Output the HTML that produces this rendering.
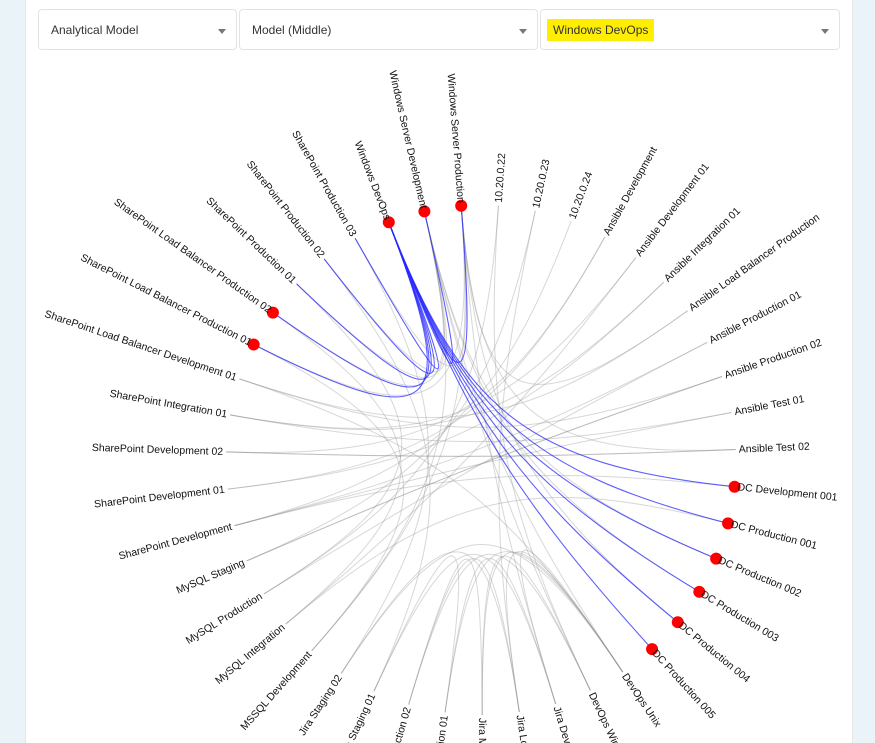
<!DOCTYPE html>
<html><head><meta charset="utf-8">
<style>
html,body{margin:0;padding:0;}
body{width:875px;height:743px;overflow:hidden;background:#eaf3f7;font-family:"Liberation Sans",Arial,sans-serif;position:relative;}
.card{position:absolute;left:25px;top:0;width:828px;height:743px;background:#fff;border-left:1px solid #e6e6e6;border-right:1px solid #e6e6e6;box-sizing:border-box;}
.dd{position:absolute;top:9px;height:41px;background:#fff;border:1px solid #e3e3e3;border-radius:4px;box-sizing:border-box;font-size:12px;color:#333;}
.dd span.t{position:absolute;left:12px;top:13px;}
.dd .ar{position:absolute;right:10px;top:19px;width:0;height:0;border-left:4px solid transparent;border-right:4px solid transparent;border-top:5px solid #777;}
.hl{background:#ffee00;padding:4px 6px;left:6px !important;top:9px !important;}
svg{position:absolute;left:0;top:0;}
</style></head><body>
<div class="card"></div>
<div class="dd" style="left:38px;width:199px"><span class="t">Analytical Model</span><div class="ar"></div></div>
<div class="dd" style="left:239px;width:299px"><span class="t">Model (Middle)</span><div class="ar"></div></div>
<div class="dd" style="left:540px;width:300px"><span class="t hl">Windows DevOps</span><div class="ar"></div></div>
<svg id="s" width="875" height="743"></svg>
<script>
var names=["Windows DevOps","Windows Server Development","Windows Server Production","10.20.0.22","10.20.0.23","10.20.0.24","Ansible Development","Ansible Development 01","Ansible Integration 01","Ansible Load Balancer Production","Ansible Production 01","Ansible Production 02","Ansible Test 01","Ansible Test 02","DC Development 001","DC Production 001","DC Production 002","DC Production 003","DC Production 004","DC Production 005","DevOps Unix","DevOps Windows","Jira Development","Jira Load Balancer","Jira Migration 02","Jira Production 01","Jira Production 02","Jira Staging 01","Jira Staging 02","MSSQL Development","MySQL Integration","MySQL Production","MySQL Staging","SharePoint Development","SharePoint Development 01","SharePoint Development 02","SharePoint Integration 01","SharePoint Load Balancer Development 01","SharePoint Load Balancer Production 01","SharePoint Load Balancer Production 02","SharePoint Production 01","SharePoint Production 02","SharePoint Production 03"];
var cx=481,cy=460,R=255,N=names.length,step=360/N,a0=-21.2;
function ang(i){return a0+step*i;}
function pt(i,r){var a=ang(i)*Math.PI/180;return [cx+r*Math.sin(a),cy-r*Math.cos(a)];}
var grey=[[1,20],[1,21],[1,16],[1,17],[2,13],[2,18],[2,22],[2,9],[3,31],[4,32],[5,33],[6,35],[7,36],[8,34],[9,37],[10,33],[11,32],[12,36],[13,35],[20,22],[20,23],[20,24],[20,25],[21,26],[22,27],[23,28],[24,26],[25,27],[22,25],[23,26],[20,28],[29,1],[30,7],[31,10],[32,11],[33,12],[34,6],[35,13],[36,8],[37,11],[38,29],[39,30],[40,31],[41,27],[42,28],[40,1],[41,1],[42,2],[38,2],[39,1],[14,33],[15,30],[29,2],[21,24],[3,21],[4,23],[37,20]];
var blue=[[0,1],[0,2],[0,14],[0,15],[0,16],[0,17],[0,18],[0,19],[0,38],[0,39],[0,40],[0,41],[0,42]];
var s='';
function path(e,st,w){var p0=pt(e[0],R),p1=pt(e[0],50),p2=pt(e[1],50),p3=pt(e[1],R);
return '<path d="M'+p0+' C'+p1+' '+p2+' '+p3+'" fill="none" stroke="'+st+'" stroke-width="'+w+'"/>';}
grey.forEach(function(e){s+=path(e,'rgba(140,140,140,0.35)',1);});
blue.forEach(function(e){s+=path(e,'rgba(40,40,255,0.75)',1.1);});
var dots=[0,1,2,14,15,16,17,18,19,38,39];
dots.forEach(function(i){var p=pt(i,R);s+='<circle cx="'+p[0]+'" cy="'+p[1]+'" r="6" fill="#f00"/>';});
names.forEach(function(n,i){var a=ang(i),p=pt(i,R+3),flip=((a%360)+360)%360>180;
var rot=flip?a+90:a-90;
s+='<text x="'+p[0]+'" y="'+p[1]+'" dy="0.31em" font-size="10.5" fill="#111" text-anchor="'+(flip?'end':'start')+'" transform="rotate('+rot+' '+p[0]+' '+p[1]+')">'+n+'</text>';});
document.getElementById('s').innerHTML=s;
</script>
</body></html>
